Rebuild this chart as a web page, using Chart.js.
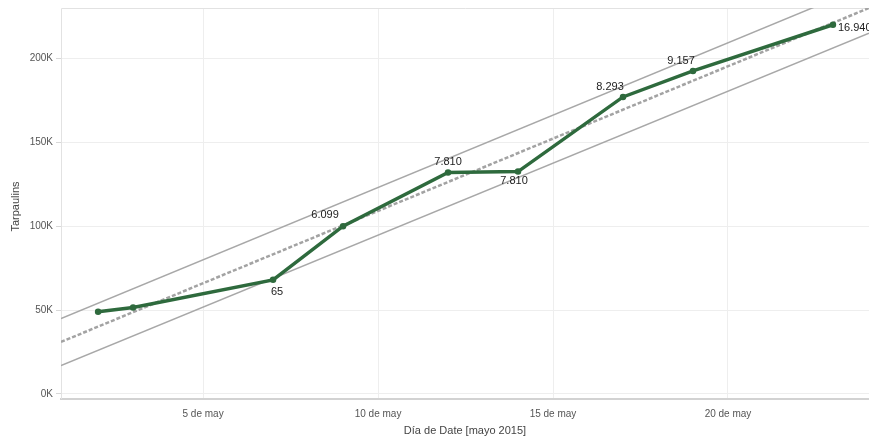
<!DOCTYPE html>
<html>
<head>
<meta charset="utf-8">
<script src="https://cdn.jsdelivr.net/npm/chart.js@4"></script>
<style>
  html, body { margin: 0; padding: 0; background: #fff; overflow: hidden; }
  #wrap { width: 869px; height: 439px; overflow: hidden; }
</style>
</head>
<body>
<div id="wrap"><canvas id="myChart" width="874" height="439"></canvas></div>
<script>
// day of May 2015
const days = [2, 3, 7, 9, 12, 14, 17, 19, 23];
const tarpaulins = [49000, 51500, 68000, 100000, 132000, 132500, 177000, 192500, 220000];
const pointLabels = ["", "", "65", "6.099", "7.810", "7.810", "8.293", "9.157", "16.940"];

// trend line and its bands, read at the left and right edges of the plot
const trendDays = [0.94, 24.03];
const trendMid = [31000, 230000];
const trendUpper = [45000, 244000];
const trendLower = [17000, 215000];

const xTicks = [5, 10, 15, 20];
const yTicks = [0, 50000, 100000, 150000, 200000];

const FONT = "'Liberation Sans', Arial, sans-serif";

// where each data label sits next to its point
const labelOffsets = [
  null, null,
  { dx: 4, dy: 12, align: "center" },
  { dx: -18, dy: -11, align: "center" },
  { dx: 0, dy: -10, align: "center" },
  { dx: -4, dy: 9, align: "center" },
  { dx: -13, dy: -10, align: "center" },
  { dx: -12, dy: -10, align: "center" },
  { dx: 5, dy: 3, align: "left" }
];

function toPoints(xs, ys) {
  return xs.map((x, i) => ({ x: x, y: ys[i] }));
}

const dataLabels = {
  id: "dataLabels",
  afterDatasetsDraw(chart) {
    const ctx = chart.ctx;
    const meta = chart.getDatasetMeta(0);
    ctx.save();
    ctx.font = "11px " + FONT;
    ctx.fillStyle = "#222";
    ctx.textBaseline = "middle";
    meta.data.forEach((pt, i) => {
      const off = labelOffsets[i];
      if (!off || !pointLabels[i]) return;
      ctx.textAlign = off.align;
      ctx.fillText(pointLabels[i], pt.x + off.dx, pt.y + off.dy);
    });
    ctx.restore();
  }
};

const frame = {
  id: "frame",
  beforeDatasetsDraw(chart) {
    const { ctx, chartArea } = chart;
    ctx.save();
    ctx.strokeStyle = "#e2e2e2";
    ctx.lineWidth = 1;
    ctx.beginPath();
    ctx.moveTo(chartArea.left + 0.5, chartArea.bottom);
    ctx.lineTo(chartArea.left + 0.5, chartArea.top + 0.5);
    ctx.lineTo(chartArea.right, chartArea.top + 0.5);
    ctx.stroke();
    ctx.restore();
  },
  afterDraw(chart) {
    const { ctx, chartArea } = chart;
    ctx.save();
    ctx.fillStyle = "#444";
    ctx.font = "11px " + FONT;
    ctx.textAlign = "center";
    ctx.textBaseline = "middle";
    ctx.fillText("Día de Date [mayo 2015]", (chartArea.left + chartArea.right) / 2, 431);
    ctx.translate(16, (chartArea.top + chartArea.bottom) / 2 + 3);
    ctx.rotate(-Math.PI / 2);
    ctx.fillText("Tarpaulins", 0, 0);
    ctx.restore();
  }
};

const ctx = document.getElementById("myChart").getContext("2d");

const chart = new Chart(ctx, {
  type: "line",
  data: {
    datasets: [
      {
        label: "Tarpaulins",
        data: toPoints(days, tarpaulins),
        borderColor: "#2e6a3d",
        backgroundColor: "#2e6a3d",
        borderWidth: 3.5,
        pointRadius: 1.5,
        pointHoverRadius: 1.5,
        tension: 0
      },
      {
        label: "Tendencia",
        data: toPoints(trendDays, trendMid),
        borderColor: "#a3a3a3",
        borderWidth: 2.5,
        borderDash: [4, 2],
        pointRadius: 0,
        clip: 0
      },
      {
        label: "Superior",
        data: toPoints(trendDays, trendUpper),
        borderColor: "#a8a8a8",
        borderWidth: 1.5,
        pointRadius: 0,
        clip: 0
      },
      {
        label: "Inferior",
        data: toPoints(trendDays, trendLower),
        borderColor: "#a8a8a8",
        borderWidth: 1.5,
        pointRadius: 0,
        clip: 0
      }
    ]
  },
  options: {
    responsive: false,
    animation: false,
    layout: { padding: { top: 8, right: 0, left: 0, bottom: 0 } },
    plugins: {
      legend: { display: false },
      tooltip: { enabled: false }
    },
    scales: {
      x: {
        type: "linear",
        min: trendDays[0],
        max: trendDays[1],
        afterBuildTicks: (scale) => {
          scale.ticks = xTicks.map((v) => ({ value: v }));
        },
        afterFit: (scale) => {
          scale.height = 40;
          scale.paddingLeft = 0;
          scale.paddingRight = 0;
        },
        grid: { color: "#eeeeee", lineWidth: 1, drawTicks: false },
        border: { display: true, color: "#d2d2d2", width: 2 },
        ticks: {
          padding: 9,
          color: "#555",
          font: { size: 10, family: FONT },
          maxRotation: 0,
          autoSkip: false,
          callback: (v) => v + " de may"
        }
      },
      y: {
        type: "linear",
        min: -3000,
        max: 230000,
        afterBuildTicks: (scale) => {
          scale.ticks = yTicks.map((v) => ({ value: v }));
        },
        afterFit: (scale) => {
          scale.width = 61;
          scale.paddingTop = 0;
          scale.paddingBottom = 0;
        },
        grid: {
          color: "#eeeeee",
          lineWidth: 1,
          drawTicks: true,
          tickLength: 5,
          tickColor: "#d8d8d8"
        },
        border: { display: false },
        ticks: {
          padding: 3,
          color: "#555",
          font: { size: 10, family: FONT },
          callback: (v) => (v / 1000) + "K"
        }
      }
    }
  },
  plugins: [frame, dataLabels]
});
</script>
</body>
</html>
